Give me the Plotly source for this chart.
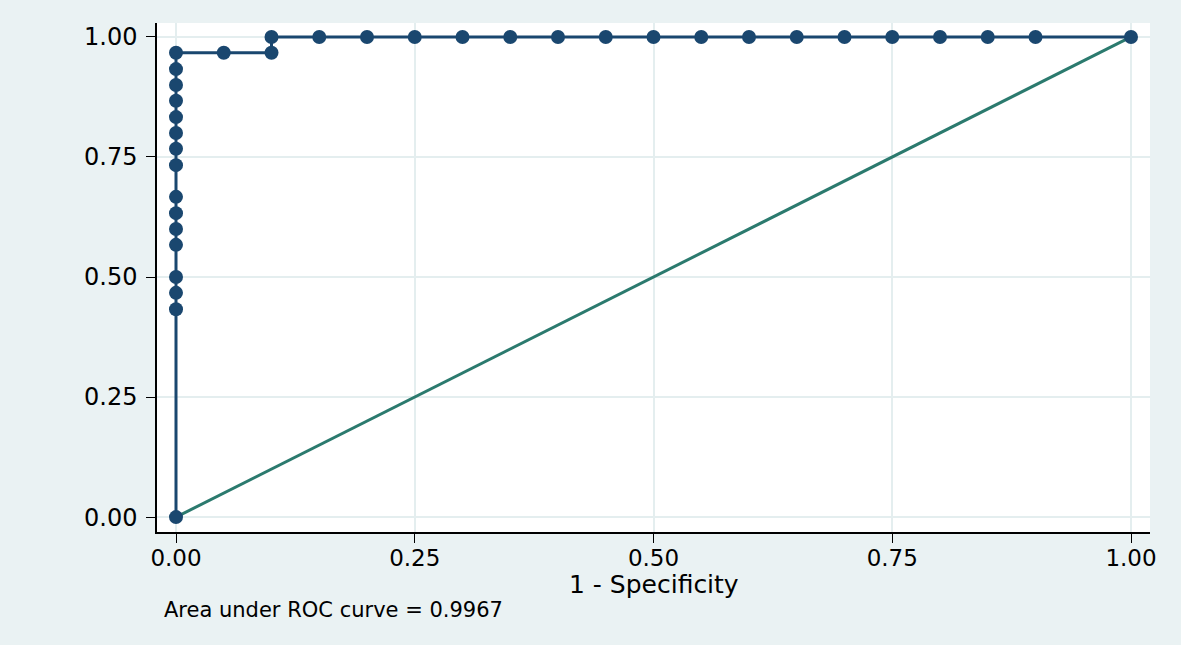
import plotly.graph_objects as go

# Puntos de la curva ROC (1 - especificidad, sensibilidad)
fpr = [0.0, 0.0, 0.0, 0.0, 0.0, 0.0, 0.0, 0.0, 0.0, 0.0, 0.0, 0.0, 0.0, 0.0, 0.0, 0.0,
       0.05, 0.10, 0.10, 0.15, 0.20, 0.25, 0.30, 0.35, 0.40, 0.45, 0.50, 0.55,
       0.60, 0.65, 0.70, 0.75, 0.80, 0.85, 0.90, 1.00]
tpr = [0.0, 0.433, 0.467, 0.500, 0.567, 0.600, 0.633, 0.667, 0.733, 0.767, 0.800,
       0.833, 0.867, 0.900, 0.933, 0.967,
       0.967, 0.967, 1.0, 1.0, 1.0, 1.0, 1.0, 1.0, 1.0, 1.0, 1.0, 1.0,
       1.0, 1.0, 1.0, 1.0, 1.0, 1.0, 1.0, 1.0]

# Linea de referencia
ref_x = [0.0, 1.0]
ref_y = [0.0, 1.0]

tick_vals = [0.0, 0.25, 0.50, 0.75, 1.00]
tick_text = ["0.00", "0.25", "0.50", "0.75", "1.00"]

titulo_x = "1 - Specificity"
auc_texto = "Area under ROC curve = 0.9967"

navy = "#1a476f"
verde = "#2b7a6e"
fondo = "#eaf2f3"
rejilla = "#e4eeef"

fig = go.Figure()

fig.add_trace(go.Scatter(x=ref_x, y=ref_y, mode="lines",
                         line=dict(color=verde, width=3), showlegend=False))

fig.add_trace(go.Scatter(x=fpr, y=tpr, mode="lines+markers",
                         line=dict(color=navy, width=3),
                         marker=dict(color=navy, size=14),
                         showlegend=False))

# titulo del eje x justo debajo de las etiquetas (como en Stata)
fig.add_annotation(text=titulo_x, xref="paper", yref="paper",
                   x=0.5, y=-0.104, xanchor="center", yanchor="middle",
                   showarrow=False, font=dict(size=25, color="black"))

fig.add_annotation(text=auc_texto, xref="paper", yref="paper",
                   x=0.005, y=-0.153, xanchor="left", yanchor="middle",
                   showarrow=False, font=dict(size=21, color="black"))

fig.update_xaxes(range=[-0.0199, 1.0199], tickvals=tick_vals, ticktext=tick_text,
                 showline=True, linecolor="black", linewidth=1.5, mirror=False,
                 ticks="outside", ticklen=9, tickcolor="black", tickwidth=1,
                 showgrid=True, gridcolor=rejilla, gridwidth=2, zeroline=False,
                 ticklabelstandoff=-4,
                 tickfont=dict(size=23, color="black"))

fig.update_yaxes(range=[-0.031, 1.029], tickvals=tick_vals, ticktext=tick_text,
                 showline=True, linecolor="black", linewidth=1.5, mirror=False,
                 ticks="outside", ticklen=9, tickcolor="black", tickwidth=1,
                 showgrid=True, gridcolor=rejilla, gridwidth=2, zeroline=False,
                 ticklabelstandoff=4,
                 tickfont=dict(size=24, color="black"))

fig.update_layout(width=1181, height=645,
                  margin=dict(l=157, r=31, t=23, b=113, autoexpand=False),
                  paper_bgcolor=fondo, plot_bgcolor="white",
                  font=dict(family="DejaVu Sans, Arial, sans-serif"))

# quitar el margen del body para que la figura ocupe toda la ventana
fig.write_html("out.html", config={"displayModeBar": False},
               post_script="document.body.style.margin='0';")
